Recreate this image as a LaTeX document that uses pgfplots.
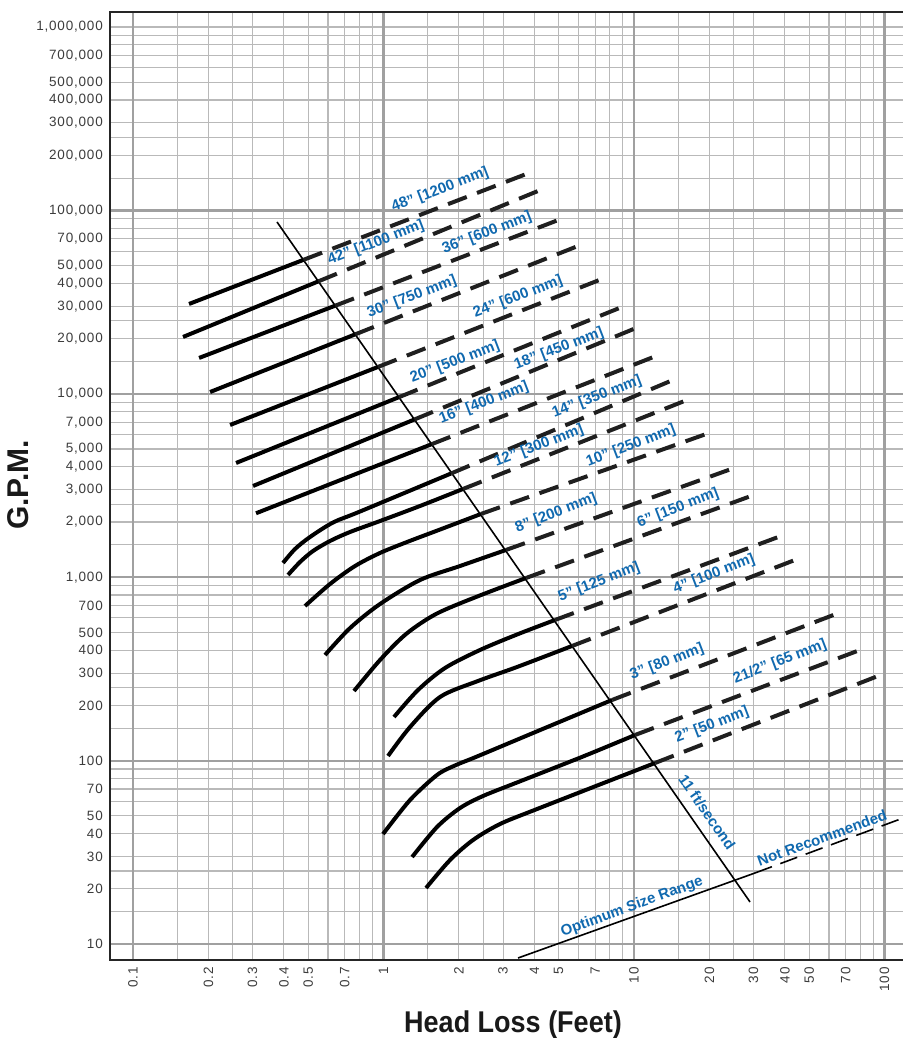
\documentclass[border=0pt]{standalone}
\usepackage{fontspec}
\setmainfont{Liberation Sans}
\newfontfamily\tickfont[LetterSpace=6]{Liberation Sans}
\usepackage{graphicx}
\usepackage{pgfplots}
\pgfplotsset{compat=1.18}
\definecolor{lblue}{RGB}{16,105,175}
\definecolor{tickgray}{RGB}{60,60,60}
\definecolor{gridc}{RGB}{185,185,185}
\definecolor{gridm}{RGB}{160,160,160}
\tikzset{
 pipe/.style={line width=4bp, black, line join=round},
 pipedash/.style={line width=4bp, black!88, dash pattern=on 20bp off 11bp},
 lab/.style={text=lblue, font=\fontsize{15bp}{15bp}\selectfont\bfseries, rotate=21, inner sep=0pt}
}
\begin{document}
\begin{tikzpicture}
\begin{axis}[
 xmode=log, ymode=log,
 scale only axis, width=793bp, height=948bp,
 xmin=0.0809, xmax=118.5, ymin=8.18, ymax=1.208e6,
 axis line style={draw=none},
 major tick length=0pt, minor tick length=0pt,
 xtick={0.1,0.2,0.3,0.4,0.5,0.7,1,2,3,4,5,7,10,20,30,40,50,70,100},
 xticklabels={0.1,0.2,0.3,0.4,0.5,0.7,1,2,3,4,5,7,10,20,30,40,50,70,100},
 minor xtick={0.15,0.25,0.6,0.8,0.9,1.5,2.5,6,8,9,15,25,60,80,90},
 ytick={10,20,30,40,50,70,100,200,300,400,500,700,1000,2000,3000,4000,5000,7000,10000,20000,30000,40000,50000,70000,100000,200000,300000,400000,500000,700000,1000000},
 yticklabels={10,20,30,40,50,70,100,200,300,400,500,700,{1,000},{2,000},{3,000},{4,000},{5,000},{7,000},{10,000},{20,000},{30,000},{40,000},{50,000},{70,000},{100,000},{200,000},{300,000},{400,000},{500,000},{700,000},{1,000,000}},
 minor ytick={15,25,60,80,90,150,250,600,800,900,1500,2500,6000,8000,9000,15000,25000,60000,80000,90000,150000,250000,600000,800000,900000},
 grid=both,
 major grid style={draw=gridc, line width=1.1bp},
 minor grid style={draw=gridc, line width=1.1bp},
 extra x ticks={0.1,1,10,100},
 extra x tick labels={},
 extra x tick style={grid=major, major grid style={draw=gridm, line width=2.2bp}},
 extra y ticks={10,100,1000,10000,100000},
 extra y tick labels={},
 extra y tick style={grid=major, major grid style={draw=gridm, line width=2.2bp}},
 xticklabel style={font=\tickfont\fontsize{13.5bp}{13.5bp}\selectfont, text=tickgray, rotate=90, anchor=east, inner xsep=7bp},
 yticklabel style={font=\tickfont\fontsize{13.5bp}{13.5bp}\selectfont, text=tickgray, anchor=east, inner xsep=7bp},
]
% 11 ft/second line
\addplot[black, line width=1.6bp] coordinates {(0.3756,86500) (29.05,16.94)};
% Optimum size range
\addplot[black, line width=1.6bp] coordinates {(3.443,8.388) (30.41,24.39)};
\addplot[black, line width=1.6bp, dash pattern=on 18bp off 9bp] coordinates {(30.41,24.39) (118.5,48.6)};
% 48
\addplot[pipe] coordinates {(0.1673,30900) (0.4788,53760)};
\addplot[pipedash] coordinates {(0.4788,53760) (3.808,160100)};
% 42
\addplot[pipe] coordinates {(0.1583,20420) (0.5492,41040)};
\addplot[pipedash] coordinates {(0.5492,41040) (4.139,127700)};
% 36
\addplot[pipe] coordinates {(0.1835,15690) (0.6416,30250)};
\addplot[pipedash] coordinates {(0.6416,30250) (5.112,89830)};
% 30
\addplot[pipe] coordinates {(0.2030,10230) (0.7709,21100)};
\addplot[pipedash] coordinates {(0.7709,21100) (5.976,64000)};
% 24
\addplot[pipe] coordinates {(0.2440,6763) (0.9497,14010)};
\addplot[pipedash] coordinates {(0.9497,14010) (7.449,42290)};
% 20
\addplot[pipe] coordinates {(0.2578,4197) (1.152,9587)};
\addplot[pipedash] coordinates {(1.152,9587) (8.956,29760)};
% 18
\addplot[pipe] coordinates {(0.3013,3144) (1.328,7245)};
\addplot[pipedash] coordinates {(1.328,7245) (10.19,22860)};
% 16
\addplot[pipe] coordinates {(0.3097,2232) (1.556,5313)};
\addplot[pipedash] coordinates {(1.556,5313) (12.24,16080)};
% 14
\addplot[pipe, smooth, tension=0.5] coordinates {(0.3970,1196) (0.4433,1425) (0.5087,1657) (0.6287,1988) (0.8058,2282) (1.860,3678)};
\addplot[pipedash] coordinates {(1.860,3678) (14.31,11900)};
% 12
\addplot[pipe, smooth, tension=0.5] coordinates {(0.4157,1029) (0.4642,1211) (0.5231,1390) (0.6115,1576) (0.7353,1765) (0.9683,2025) (1.399,2446) (2.076,3028)};
\addplot[pipedash] coordinates {(2.076,3028) (16.28,9256)};
% 10
\addplot[pipe, smooth, tension=0.5] coordinates {(0.4859,696.7) (0.6115,918.6) (0.7695,1151) (0.9683,1356) (1.241,1556) (1.681,1820) (2.450,2213)};
\addplot[pipedash] coordinates {(2.450,2213) (19.93,6116)};
% 8
\addplot[pipe, smooth, tension=0.5] coordinates {(0.5840,376.6) (0.7353,528.5) (0.9683,714.5) (1.399,965.8) (2.020,1151) (3.083,1408)};
\addplot[pipedash] coordinates {(3.083,1408) (25.07,3940)};
% 6
\addplot[pipe, smooth, tension=0.5] coordinates {(0.7624,239.7) (0.9683,353.7) (1.230,490.1) (1.620,630.2) (2.340,780.2) (3.706,990.4)};
\addplot[pipedash] coordinates {(3.706,990.4) (29.32,2773)};
% 5
\addplot[pipe, smooth, tension=0.5] coordinates {(1.101,172.9) (1.373,242.7) (1.760,319.9) (2.428,401.1) (3.411,487.1) (4.837,584.5)};
\addplot[pipedash] coordinates {(4.837,584.5) (38.62,1678)};
% 4
\addplot[pipe, smooth, tension=0.5] coordinates {(1.042,106.0) (1.276,152.5) (1.681,222.3) (2.384,271.8) (3.411,323.9) (5.656,421.7)};
\addplot[pipedash] coordinates {(5.656,421.7) (43.92,1242)};
% 3
\addplot[pipe, smooth, tension=0.5] coordinates {(0.9954,39.79) (1.276,60.98) (1.635,83.49) (1.929,94.06) (2.362,105.3) (3.952,141.4) (8.170,214.1)};
\addplot[pipedash] coordinates {(8.170,214.1) (64.02,630.2)};
% 2 1/2
\addplot[pipe, smooth, tension=0.5] coordinates {(1.300,29.81) (1.635,43.45) (2.020,55.14) (2.495,64.12) (3.411,75.97) (6.257,105.3) (10.09,137.9)};
\addplot[pipedash] coordinates {(10.09,137.9) (79.85,401.1)};
% 2
\addplot[pipe, smooth, tension=0.5] coordinates {(1.478,20.20) (1.843,28.71) (2.277,36.91) (2.918,45.11) (4.100,54.45) (12.13,97.05)};
\addplot[pipedash] coordinates {(12.13,97.05) (94.19,289.3)};
\coordinate (bl) at (rel axis cs:0,0);
\coordinate (br) at (rel axis cs:1,0);
\coordinate (tl) at (rel axis cs:0,1);
\coordinate (tr) at (rel axis cs:1,1);
\end{axis}
\draw[line width=2.6bp, black!85] (br) -- (bl) -- (tl) -- (tr);
% labels
\node[lab] at ([shift={(330bp,770bp)}]bl) {48" [1200 mm]};
\node[lab] at ([shift={(266bp,717bp)}]bl) {42" [1100 mm]};
\node[lab] at ([shift={(377bp,727bp)}]bl) {36" [600 mm]};
\node[lab] at ([shift={(302bp,663bp)}]bl) {30" [750 mm]};
\node[lab] at ([shift={(408bp,663bp)}]bl) {24" [600 mm]};
\node[lab] at ([shift={(345bp,598bp)}]bl) {20" [500 mm]};
\node[lab] at ([shift={(449bp,611bp)}]bl) {18" [450 mm]};
\node[lab] at ([shift={(374bp,557bp)}]bl) {16" [400 mm]};
\node[lab] at ([shift={(487bp,563bp)}]bl) {14" [350 mm]};
\node[lab] at ([shift={(429bp,514bp)}]bl) {12" [300 mm]};
\node[lab] at ([shift={(521bp,514bp)}]bl) {10" [250 mm]};
\node[lab] at ([shift={(446bp,447bp)}]bl) {8" [200 mm]};
\node[lab] at ([shift={(568bp,452bp)}]bl) {6" [150 mm]};
\node[lab] at ([shift={(489bp,378bp)}]bl) {5" [125 mm]};
\node[lab] at ([shift={(604bp,386bp)}]bl) {4" [100 mm]};
\node[lab] at ([shift={(557bp,298bp)}]bl) {3" [80 mm]};
\node[lab] at ([shift={(670bp,298bp)}]bl) {21/2" [65 mm]};
\node[lab] at ([shift={(602bp,235bp)}]bl) {2" [50 mm]};
\node[lab, rotate=-76] at ([shift={(597bp,148bp)}]bl) {11 ft/second};
\node[lab, rotate=-1] at ([shift={(712bp,122bp)}]bl) {Not Recommended};
\node[lab, rotate=-1] at ([shift={(522bp,53bp)}]bl) {Optimum Size Range};
% axis titles
\node[rotate=90, text=black!90, font=\fontsize{30bp}{30bp}\selectfont\bfseries] at ([shift={(-92bp,475bp)}]bl) {G.P.M.};
\node[text=black!90, font=\fontsize{30bp}{30bp}\selectfont\bfseries] at ([shift={(403bp,-65bp)}]bl) {\scalebox{0.9}[1]{Head Loss (Feet)}};
\pgfresetboundingbox
\path ([shift={(-110bp,-78bp)}]bl) rectangle ([shift={(0bp,12bp)}]tr);
\end{tikzpicture}
\end{document}
